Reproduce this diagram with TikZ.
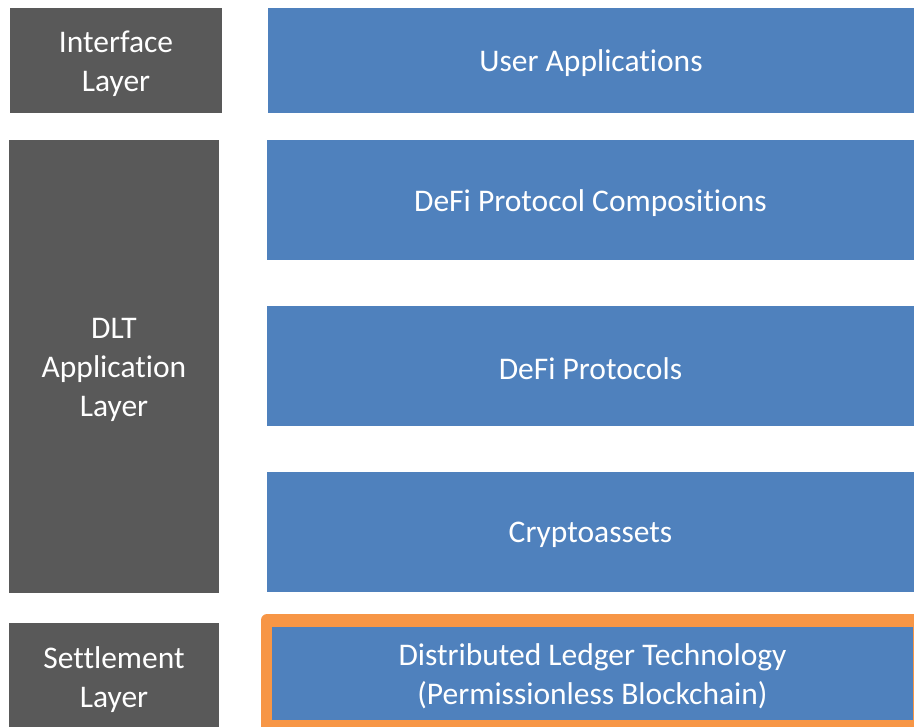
\documentclass[tikz,border=0pt]{standalone}
\usepackage{fontspec}
\setmainfont[RawFeature={-liga;-dlig;-calt}]{Carlito}
\definecolor{laygray}{HTML}{595959}
\definecolor{layblue}{HTML}{4F81BD}
\definecolor{layorange}{HTML}{F79646}
\begin{document}
\begin{tikzpicture}[x=1pt,y=-1pt,
  txt/.style={inner sep=0pt, outer sep=0pt, text=white, align=center,
    font=\fontsize{31.5}{39}\selectfont, yshift=-3pt},
  graybox/.style={inner sep=0pt, outer sep=0pt, fill=laygray},
  bluebox/.style={inner sep=0pt, outer sep=0pt, fill=layblue}]
\useasboundingbox (0,0) rectangle (914,727);
\begin{scope}
\clip (0,0) rectangle (914,727);
% gray layer labels
\node[graybox, minimum width=212pt, minimum height=105pt] (iface) at (116,60.5) {};
\node[txt] (ifacet) at (iface.center) {Interface\\Layer};
\node[graybox, minimum width=210pt, minimum height=453pt] (dlt) at (114,366.5) {};
\node[txt] (dltt) at (dlt.center) {DLT\\Application\\Layer};
\node[graybox, minimum width=210pt, minimum height=117pt] (settle) at (114,681.5) {};
\node[txt] (settlet) at (114,677) {Settlement\\Layer};
% blue boxes
\node[bluebox, minimum width=646pt, minimum height=105pt] (user) at (591,60.5) {};
\node[txt] (usert) at (user.center) {User Applications};
\node[bluebox, minimum width=647pt, minimum height=120pt] (comp) at (590.5,200) {};
\node[txt] (compt) at (comp.center) {DeFi Protocol Compositions};
\node[bluebox, minimum width=647pt, minimum height=120pt] (proto) at (590.5,366) {};
\node[txt] (protot) at (proto.center) {DeFi Protocols};
\node[bluebox, minimum width=647pt, minimum height=120pt] (crypto) at (590.5,532) {};
\node[txt] (cryptot) at (crypto.center) {Cryptoassets};
% settlement (orange framed)
\fill[layorange, rounded corners=6pt] (261,614) rectangle (930,745);
\node[bluebox, minimum width=641pt, minimum height=93pt] (dltech) at (592.5,673.5) {};
\node[txt] (dltecht) at (dltech.center) {Distributed Ledger Technology\\(Permissionless Blockchain)};
\end{scope}
\end{tikzpicture}
\end{document}
